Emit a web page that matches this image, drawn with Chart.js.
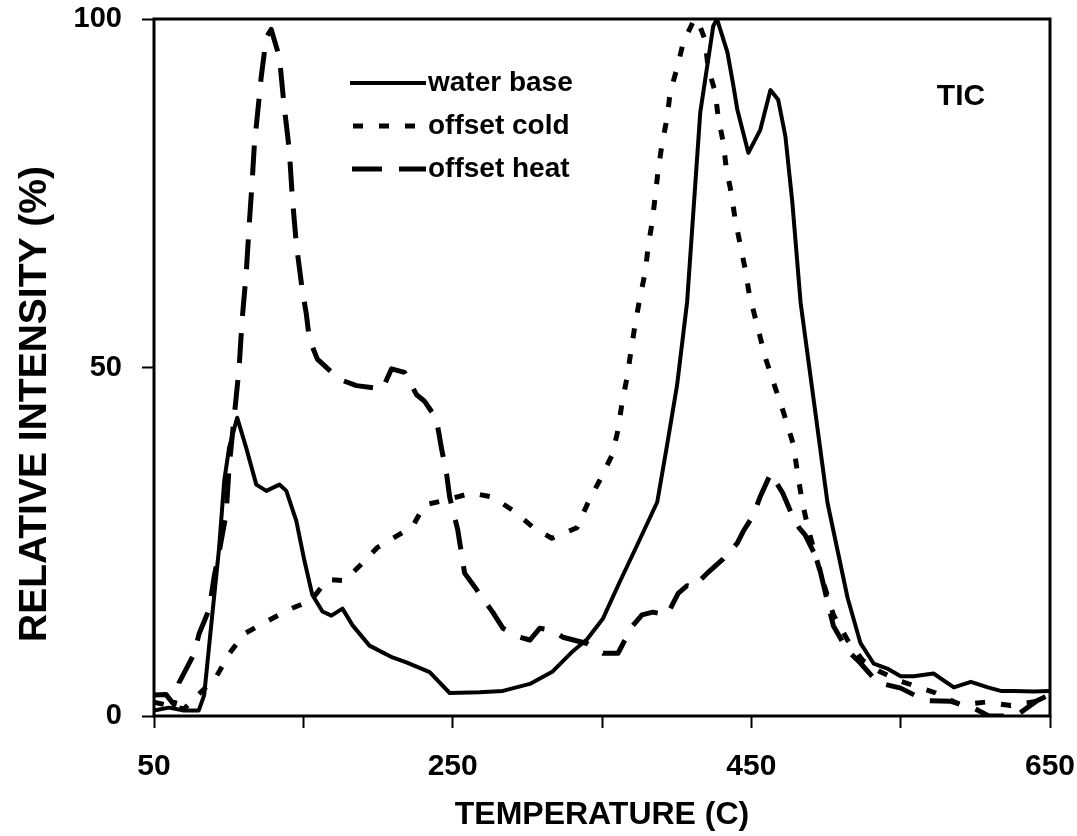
<!DOCTYPE html>
<html>
<head>
<meta charset="utf-8">
<script src="https://cdn.jsdelivr.net/npm/chart.js@4"></script>
<style>
  body { margin: 0; background: #fff; }
  #wrap { width: 1077px; height: 836px; }
</style>
</head>
<body>
<div id="wrap"><canvas id="tic" width="1077" height="836"></canvas></div>
<script>
// TIC curves, relative intensity (%) vs temperature (C)

const waterT = [50,60,70,80,83.6,89,93.6,97,100.3,105.7,111.7,118.5,125.2,134,138.6,145.3,150.7,156,162.8,168.8,176.2,183,194.3,209.7,219,234.6,248,268,283.6,301.7,317,330.5,340,350.7,362,373.5,387,393.6,400.3,407,415.8,424.5,427,434,438,440.6,448,456,462.8,468,472.8,477.5,483,501,514.4,523,532,541,550,558.7,572,585.6,597,608.4,617,626,639,650];
const waterI = [0.8,1.2,0.8,0.8,3.0,14.5,24.1,33.7,38.5,42.8,38.5,33.2,32.3,33.2,32.3,28,22.3,17.4,15,14.4,15.4,13,10.1,8.4,7.7,6.3,3.3,3.4,3.6,4.6,6.4,9.3,11,14,19.3,24.5,30.7,38.9,47.5,59.4,86.6,99,100,95.2,90.4,87,80.8,84.1,89.8,88.4,83.2,73.6,59.3,30.6,17,10.5,7.5,6.8,5.7,5.7,6.1,4.1,4.9,4.1,3.6,3.6,3.5,3.6];

const coldT = [50,60,70,78,91.6,100.3,110.4,125.8,140.6,155.4,166,177.5,189,199.7,212.4,223.2,231.2,246,262.8,276.8,290.3,303.7,316.4,333.2,340.6,348.7,356.7,360.7,363.4,366.8,369.5,372.1,375.5,378.9,380.9,383.6,385.6,387.6,390.3,393.6,395.6,400.3,404.4,411,413.8,419,421,425.8,427.8,431.2,433.2,436.6,439.2,442.6,446,448.7,454.7,459.4,466,472.1,478.2,480.9,484.2,488.3,493,497.7,505,514.4,524.5,536.6,550,573.5,590,607,623.8,640.6,650];
const coldI = [2,1.5,1,2.7,5.6,8.9,11.8,13.6,15.3,16.6,19.6,19.4,21.8,24.2,25.8,27.2,30.3,31,32,31.4,29.5,27.1,25.5,27,30.6,33.9,37.4,41,44.9,48.6,52.5,56.1,60.1,63.6,67.3,70.9,74.5,78.3,82.2,85.8,89.4,93,96.6,99.6,100,97,93.1,89.5,85.9,82.3,78.6,75,71.2,67.6,64,60.4,55.4,51.4,47.1,43.2,38.9,34.9,30.6,26.7,23,19.5,14.5,10.9,8,6.3,5,3.3,1.6,2,1.5,2.1,3.1];

const heatT = [50,58,63.4,66.8,76.8,80.2,86.9,90.3,93.6,98.3,100.3,105,107,109,111.7,113.8,115.8,117.1,121.8,125.2,128.5,134,137,140.6,142.6,145.3,147.3,149.3,152,154,159.4,174.2,185.6,203,209,217.8,225.8,231,239,242.6,246,248,253.4,258,264.8,276.8,283.6,295,301.7,308.4,317,323.8,340,350.7,360.7,370,376.8,384,393.6,401,407,411,420.5,431,440.6,444.6,451.3,456,463,471,477,482,486,494.3,499.7,505,514.4,523,534.6,550,566.8,583.6,598.3,609,619,629,640.6,650];
const heatI = [3,3.1,1.6,4.8,8.9,11.8,15.3,20,23.5,29,35.7,45.7,50,56.8,63.4,70.6,76.9,81.6,91.7,97.4,98.5,94.5,87.8,81.2,74.5,67.7,64.4,61.1,57.7,54.1,51.2,48.3,47.4,46.9,49.8,49.3,46.1,45.2,42.7,38.3,34.6,31.4,26.7,20.5,18.5,14.9,12.6,11.3,10.9,12.6,12.3,11.3,10.4,9,9,12.8,14.5,14.9,14.5,17.6,18.7,18.4,20.5,22.5,24.8,26.5,28.8,31.5,34.8,32,29,27,26,22.4,17.6,12.9,9.4,7.6,4.8,4,2.2,2.1,1.2,0,0,0.3,2.1,3.1];

const seriesNames = ['water base', 'offset cold', 'offset heat'];
const xTicks = [50, 150, 250, 350, 450, 550, 650];
const xLabels = [50, 250, 450, 650];
const yTicks = [0, 50, 100];
const xTitle = 'TEMPERATURE (C)';
const yTitle = 'RELATIVE INTENSITY (%)';

const FONT = '"Liberation Sans", Arial, sans-serif';
Chart.defaults.font.family = FONT;
Chart.defaults.color = '#000';

function toPoints(xs, ys) {
    return xs.map((x, i) => ({ x: x, y: ys[i] }));
}

const datasets = [
    { label: seriesNames[0], data: toPoints(waterT, waterI), borderWidth: 4, borderDash: [] },
    { label: seriesNames[1], data: toPoints(coldT, coldI), borderWidth: 5, borderDash: [10, 16] },
    { label: seriesNames[2], data: toPoints(heatT, heatI), borderWidth: 5, borderDash: [30, 17] },
].map(d => Object.assign(d, {
    borderColor: '#000',
    backgroundColor: '#000',
    pointRadius: 0,
    tension: 0,
    fill: false,
    borderJoinStyle: 'round',
}));

// box round the plot area
const framePlugin = {
    id: 'frame',
    afterDatasetsDraw(chart) {
        const { ctx, chartArea: a } = chart;
        ctx.save();
        ctx.strokeStyle = '#000';
        ctx.lineWidth = 3;
        ctx.strokeRect(a.left, a.top, a.right - a.left, a.bottom - a.top);
        ctx.restore();
    }
};

// legend inside the plot, the TIC tag and the y title (sits a bit low in the original)
const notesPlugin = {
    id: 'notes',
    afterDraw(chart) {
        const ctx = chart.ctx;
        const rows = [83, 126, 169];
        const sampleStart = [350, 353, 352];
        ctx.save();
        ctx.strokeStyle = '#000';
        ctx.fillStyle = '#000';
        chart.data.datasets.forEach((ds, i) => {
            const y = rows[i];
            ctx.lineWidth = ds.borderWidth;
            ctx.setLineDash(ds.borderDash);
            ctx.beginPath();
            ctx.moveTo(sampleStart[i], y);
            ctx.lineTo(426, y);
            ctx.stroke();
            ctx.setLineDash([]);
            ctx.font = 'bold 28px ' + FONT;
            ctx.textBaseline = 'middle';
            ctx.textAlign = 'left';
            ctx.fillText(ds.label, 428, y);
        });
        ctx.font = 'bold 30px ' + FONT;
        ctx.textAlign = 'center';
        ctx.fillText('TIC', 961, 97);

        ctx.translate(35, 404);
        ctx.rotate(-Math.PI / 2);
        ctx.font = 'bold 39px ' + FONT;
        ctx.fillText(yTitle, 0, 0);
        ctx.restore();
    }
};

new Chart(document.getElementById('tic'), {
    type: 'line',
    data: { datasets: datasets },
    options: {
        responsive: false,
        devicePixelRatio: 1,
        animation: false,
        layout: { padding: { top: 19, right: 27, left: 0, bottom: 0 } },
        plugins: {
            legend: { display: false },
            tooltip: { enabled: false },
        },
        scales: {
            x: {
                type: 'linear',
                min: 50,
                max: 650,
                afterBuildTicks: (s) => { s.ticks = xTicks.map(v => ({ value: v })); },
                afterFit: (s) => { s.height = 120; s.paddingLeft = 0; s.paddingRight = 0; },
                border: { display: false },
                grid: { drawOnChartArea: false, tickLength: 12, tickWidth: 2, color: '#000' },
                ticks: {
                    autoSkip: false,
                    maxRotation: 0,
                    padding: 21,
                    color: '#000',
                    font: { size: 30, weight: 'bold' },
                    callback: (v) => xLabels.includes(v) ? String(v) : '',
                },
                title: {
                    display: true,
                    text: xTitle,
                    color: '#000',
                    font: { size: 32, weight: 'bold' },
                    padding: { top: 0, bottom: 2 },
                },
            },
            y: {
                min: 0,
                max: 100,
                afterBuildTicks: (s) => { s.ticks = yTicks.map(v => ({ value: v })); },
                afterFit: (s) => { s.width = 154; s.paddingTop = 0; s.paddingBottom = 0; },
                border: { display: false },
                grid: { drawOnChartArea: false, tickLength: 12, tickWidth: 2, color: '#000' },
                ticks: {
                    padding: 20,
                    color: '#000',
                    font: { size: 29, weight: 'bold' },
                },
                title: { display: false },
            },
        },
    },
    plugins: [framePlugin, notesPlugin],
});
</script>
</body>
</html>
